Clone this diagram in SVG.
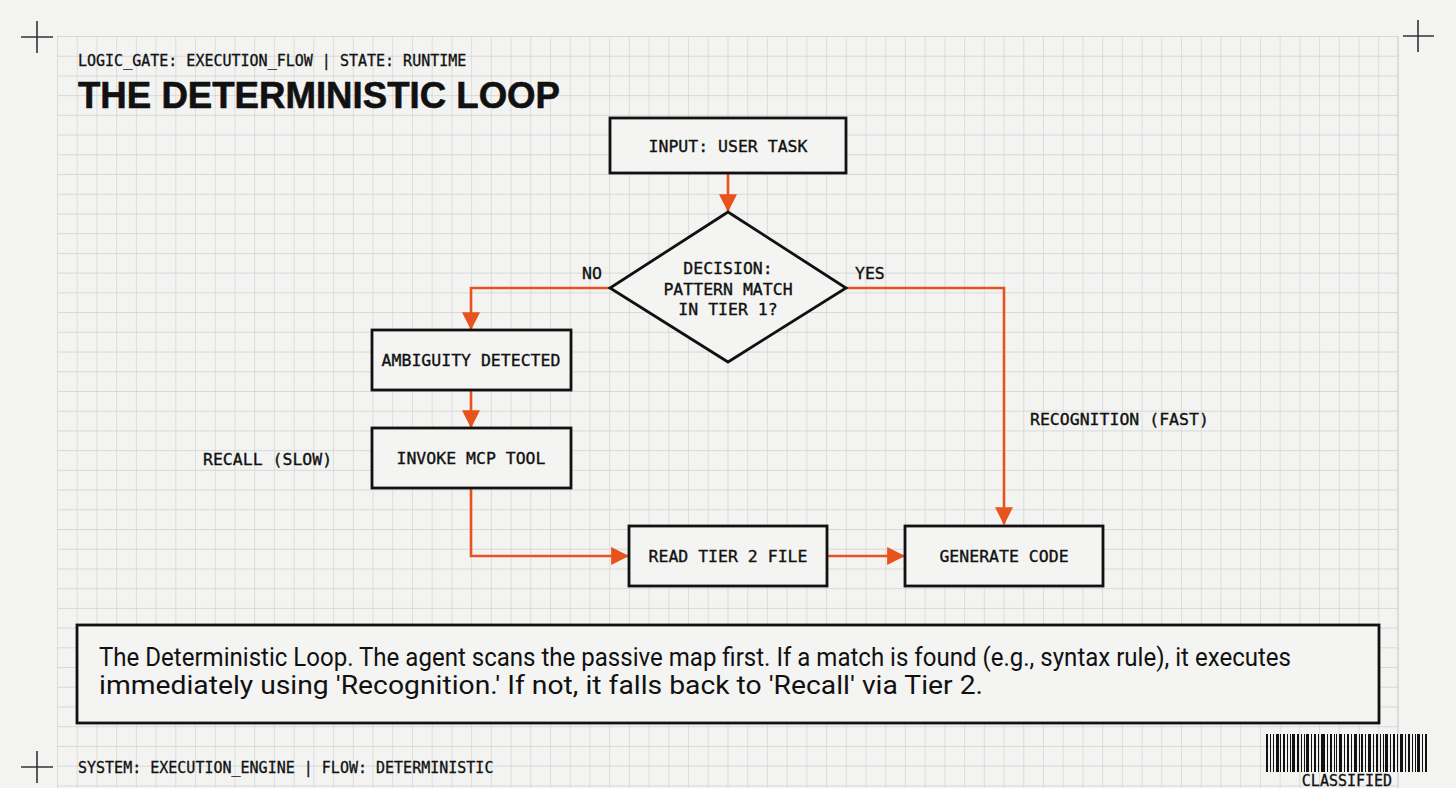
<svg xmlns="http://www.w3.org/2000/svg" width="1456" height="788" viewBox="0 0 1456 788">
<style>
.box{fill:#f4f4f3;stroke:#111;stroke-width:2.8}
.lbl{font-family:"DejaVu Sans Mono","Liberation Mono",monospace;font-size:16.5px;fill:#111;stroke:#111;stroke-width:0.35}
.mid{text-anchor:middle}
.hdr{font-family:"DejaVu Sans Mono","Liberation Mono",monospace;font-size:15px;fill:#111;stroke:#111;stroke-width:0.3}
.conn{fill:none;stroke:#E8521C;stroke-width:2.6}
.cross{stroke:#333;stroke-width:1.6}
.cap{font-family:Roboto,"Liberation Sans",sans-serif;font-size:25.5px;fill:#111}
</style>
<defs>
<pattern id="grid" patternUnits="userSpaceOnUse" x="57" y="36" width="19.72" height="19.72">
<path d="M0 0V19.72M0 0H19.72" fill="none" stroke="#d0d0d0" stroke-width="1.3"/>
</pattern>
<marker id="ah" markerUnits="userSpaceOnUse" markerWidth="18" markerHeight="18" viewBox="0 0 16 16" refX="15" refY="8" orient="auto">
<path d="M0 0L16 8L0 16Z" fill="#E8521C"/>
</marker>
</defs>
<rect width="1456" height="788" fill="#f3f3f2"/>
<rect x="57" y="36" width="1341" height="752" fill="url(#grid)"/>
<line x1="1398" y1="36" x2="1398" y2="788" stroke="#d0d0d0" stroke-width="1.3"/>
<g id="crosshairs">
<path class="cross" d="M21 37H53M37 21V53"/>
<path class="cross" d="M1403 36H1434M1418 20V52"/>
<path class="cross" d="M21 767H53M37 751V783"/>
</g>
<g id="header">
<text class="hdr" x="78" y="66">LOGIC_GATE: EXECUTION_FLOW | STATE: RUNTIME</text>
<text x="78" y="108" font-family="'Liberation Sans',Arial,sans-serif" font-weight="bold" font-size="37" textLength="482" lengthAdjust="spacingAndGlyphs" fill="#111" stroke="#111" stroke-width="0.6">THE DETERMINISTIC LOOP</text>
</g>
<g id="connectors">
<path class="conn" d="M728 173V211" marker-end="url(#ah)"/>
<path class="conn" d="M610 288H471V329" marker-end="url(#ah)"/>
<path class="conn" d="M846 288H1004V524" marker-end="url(#ah)"/>
<path class="conn" d="M471 390V427" marker-end="url(#ah)"/>
<path class="conn" d="M471 488V556H628" marker-end="url(#ah)"/>
<path class="conn" d="M827 556H904" marker-end="url(#ah)"/>
<text class="lbl" x="582" y="279">NO</text>
<text class="lbl" x="855" y="279">YES</text>
<text class="lbl" x="203" y="465">RECALL (SLOW)</text>
<text class="lbl" x="1030" y="425">RECOGNITION (FAST)</text>
</g>
<g id="input">
<rect class="box" x="610" y="118" width="236" height="55"/>
<text class="lbl mid" x="728" y="152">INPUT: USER TASK</text>
</g>
<g id="decision">
<path class="box" d="M728 212L846 288L728 362L610 288Z"/>
<text class="lbl mid" x="728" y="274">DECISION:</text>
<text class="lbl mid" x="728" y="295">PATTERN MATCH</text>
<text class="lbl mid" x="728" y="315">IN TIER 1?</text>
</g>
<g id="ambiguity">
<rect class="box" x="372" y="330" width="199" height="60"/>
<text class="lbl mid" x="471" y="366">AMBIGUITY DETECTED</text>
</g>
<g id="invoke">
<rect class="box" x="372" y="428" width="199" height="60"/>
<text class="lbl mid" x="471" y="464">INVOKE MCP TOOL</text>
</g>
<g id="read">
<rect class="box" x="629" y="526" width="198" height="60"/>
<text class="lbl mid" x="728" y="562">READ TIER 2 FILE</text>
</g>
<g id="generate">
<rect class="box" x="905" y="526" width="198" height="60"/>
<text class="lbl mid" x="1004" y="562">GENERATE CODE</text>
</g>
<g id="caption">
<rect class="box" x="77" y="625" width="1302" height="98"/>
<text class="cap" x="99" y="666" textLength="1192" lengthAdjust="spacingAndGlyphs">The Deterministic Loop. The agent scans the passive map first. If a match is found (e.g., syntax rule), it executes</text>
<text class="cap" x="99" y="694" textLength="884" lengthAdjust="spacingAndGlyphs">immediately using 'Recognition.' If not, it falls back to 'Recall' via Tier 2.</text>
</g>
<g id="footer">
<text class="hdr" x="78" y="773" font-size="15.3">SYSTEM: EXECUTION_ENGINE | FLOW: DETERMINISTIC</text>
</g>
<g id="barcode" fill="#111">
<rect x="1266" y="734" width="2" height="38"/><rect x="1270" y="734" width="1" height="38"/><rect x="1273" y="734" width="1" height="38"/><rect x="1276" y="734" width="3" height="38"/><rect x="1280" y="734" width="1" height="38"/><rect x="1283" y="734" width="2" height="38"/><rect x="1287" y="734" width="1" height="38"/><rect x="1290" y="734" width="1" height="38"/><rect x="1292" y="734" width="3" height="38"/><rect x="1297" y="734" width="2" height="38"/><rect x="1301" y="734" width="1" height="38"/><rect x="1304" y="734" width="1" height="38"/><rect x="1306" y="734" width="3" height="38"/><rect x="1311" y="734" width="1" height="38"/><rect x="1314" y="734" width="2" height="38"/><rect x="1318" y="734" width="1" height="38"/><rect x="1321" y="734" width="4" height="38"/><rect x="1327" y="734" width="1" height="38"/><rect x="1330" y="734" width="2" height="38"/><rect x="1334" y="734" width="1" height="38"/><rect x="1336" y="734" width="1" height="38"/><rect x="1339" y="734" width="3" height="38"/><rect x="1344" y="734" width="1" height="38"/><rect x="1347" y="734" width="2" height="38"/><rect x="1351" y="734" width="1" height="38"/><rect x="1354" y="734" width="3" height="38"/><rect x="1359" y="734" width="1" height="38"/><rect x="1361" y="734" width="2" height="38"/><rect x="1365" y="734" width="1" height="38"/><rect x="1368" y="734" width="3" height="38"/><rect x="1373" y="734" width="1" height="38"/><rect x="1376" y="734" width="2" height="38"/><rect x="1380" y="734" width="1" height="38"/><rect x="1383" y="734" width="1" height="38"/><rect x="1385" y="734" width="3" height="38"/><rect x="1390" y="734" width="1" height="38"/><rect x="1393" y="734" width="2" height="38"/><rect x="1397" y="734" width="1" height="38"/><rect x="1400" y="734" width="3" height="38"/><rect x="1405" y="734" width="1" height="38"/><rect x="1408" y="734" width="2" height="38"/><rect x="1412" y="734" width="1" height="38"/><rect x="1415" y="734" width="1" height="38"/><rect x="1417" y="734" width="3" height="38"/><rect x="1422" y="734" width="1" height="38"/><rect x="1425" y="734" width="2" height="38"/>
<text class="hdr mid" x="1347" y="786" font-size="14.5">CLASSIFIED</text>
</g>
</svg>
